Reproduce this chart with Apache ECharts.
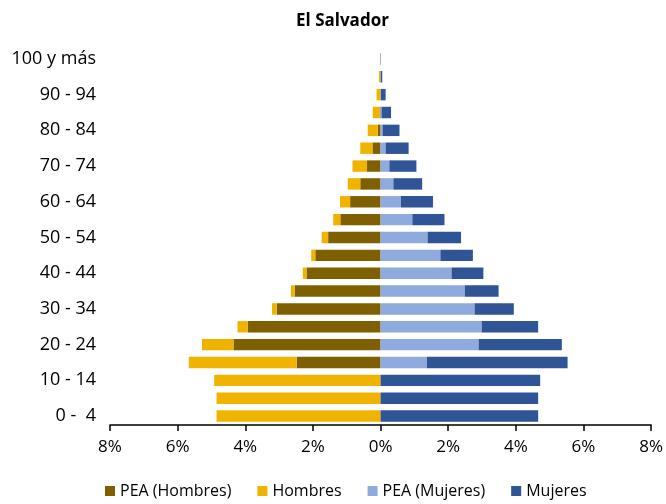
<!DOCTYPE html>
<html>
<head>
<meta charset="utf-8">
<script src="https://cdn.jsdelivr.net/npm/echarts@6/dist/echarts.min.js"></script>
<style>
  html, body { margin: 0; padding: 0; background: #fff; }
  #main { width: 666px; height: 504px; }
</style>
</head>
<body>
<div id="main"></div>
<script>
// grupos de edad, de abajo hacia arriba
var edades = ['0 -  4', '5 -  9', '10 - 14', '15 - 19', '20 - 24', '25 - 29', '30 - 34',
  '35 - 39', '40 - 44', '45 - 49', '50 - 54', '55 - 59', '60 - 64', '65 - 69',
  '70 - 74', '75 - 79', '80 - 84', '85 - 89', '90 - 94', '95 - 99', '100 y más'];

// porcentajes de la poblacion total (hombres a la izquierda)
var peaHombres = [0, 0, 0, 2.48, 4.35, 3.93, 3.07, 2.54, 2.19, 1.93, 1.55, 1.19, 0.90, 0.60,
  0.40, 0.24, 0.08, 0.03, 0.01, 0.005, 0];
var hombres = [4.85, 4.85, 4.92, 3.19, 0.93, 0.30, 0.14, 0.11, 0.11, 0.12, 0.19, 0.21, 0.30, 0.37,
  0.43, 0.36, 0.30, 0.20, 0.11, 0.045, 0.01];
var peaMujeres = [0, 0, 0, 1.37, 2.90, 2.99, 2.78, 2.49, 2.10, 1.77, 1.39, 0.94, 0.60, 0.38,
  0.26, 0.15, 0.06, 0.03, 0.01, 0.005, 0];
var mujeres = [4.66, 4.66, 4.72, 4.16, 2.46, 1.67, 1.16, 1.00, 0.94, 0.96, 0.99, 0.95, 0.95, 0.85,
  0.80, 0.68, 0.50, 0.28, 0.14, 0.045, 0.01];

var ticksX = [-8, 8, 2];

function neg(arr) { return arr.map(function (v) { return -v; }); }

var font = 'Open Sans';
var myChart = echarts.init(document.getElementById('main'));

myChart.setOption({
  animation: false,
  title: {
    text: 'El Salvador',
    left: 291, top: 8,
    textStyle: { fontFamily: font, fontSize: 17, fontWeight: 'bold', color: '#000' }
  },
  legend: {
    bottom: 0,
    left: 100,
    icon: 'rect',
    itemWidth: 10, itemHeight: 10,
    itemGap: 26,
    textStyle: { fontFamily: font, fontSize: 16, color: '#000' },
    data: ['PEA (Hombres)', 'Hombres', 'PEA (Mujeres)', 'Mujeres']
  },
  grid: { left: 110, right: 13, top: 50, bottom: 79 },
  xAxis: {
    type: 'value',
    min: ticksX[0], max: ticksX[1], interval: ticksX[2],
    axisLine: { show: true, lineStyle: { color: '#000', width: 1.5 } },
    axisTick: { show: true, length: 6, lineStyle: { color: '#000', width: 1.5 } },
    splitLine: { show: false },
    axisLabel: {
      fontFamily: font, fontSize: 17, color: '#000', margin: 14,
      formatter: function (v) { return Math.abs(v) + '%'; }
    }
  },
  yAxis: {
    type: 'category',
    data: edades,
    axisLine: { show: false },
    axisTick: { show: false },
    axisLabel: { interval: 1, fontFamily: font, fontSize: 18, color: '#000', margin: 14 }
  },
  series: [
    { name: 'PEA (Hombres)', type: 'bar', stack: 'p', barCategoryGap: '36%',
      itemStyle: { color: '#7F6000' }, data: neg(peaHombres) },
    { name: 'Hombres', type: 'bar', stack: 'p',
      itemStyle: { color: '#F0B400' }, data: neg(hombres) },
    { name: 'PEA (Mujeres)', type: 'bar', stack: 'p',
      itemStyle: { color: '#8FAADC' }, data: peaMujeres },
    { name: 'Mujeres', type: 'bar', stack: 'p',
      itemStyle: { color: '#2F5597' }, data: mujeres }
  ]
});
</script>
</body>
</html>
